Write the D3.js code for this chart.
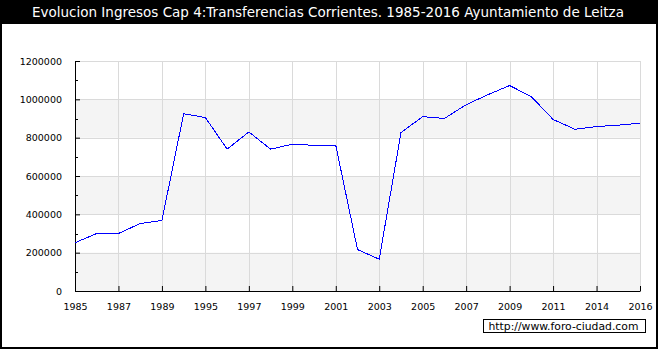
<!DOCTYPE html>
<html>
<head>
<meta charset="utf-8">
<script src="https://cdn.jsdelivr.net/npm/d3@7"></script>
<style>
  body { margin: 0; background: #fff; }
  svg text { font-family: "DejaVu Sans", sans-serif; }
</style>
</head>
<body>
<div class="chart"></div>
<script>
// Chart sizes
const width = 660;
const height = 350;
const margin = {top: 61, right: 20, bottom: 59, left: 75};
const inner_width = width - margin.left - margin.right;
const inner_height = height - margin.top - margin.bottom;

// Data
const years = ['1985', '1986', '1987', '1988', '1989', '1994', '1995', '1996', '1997', '1998',
    '1999', '2000', '2001', '2002', '2003', '2004', '2005', '2006', '2007', '2008',
    '2009', '2010', '2011', '2012', '2014', '2015', '2016'];
const ingresos = [252000, 300000, 300000, 352000, 368000, 925000, 905000, 740000, 830000, 740000,
    766000, 760000, 760000, 216000, 166000, 826000, 910000, 900000, 972000, 1024000,
    1072000, 1014000, 895000, 844000, 858000, 865000, 876000];
const x_ticks = ['1985', '1987', '1989', '1995', '1997', '1999', '2001', '2003', '2005',
    '2007', '2009', '2011', '2014', '2016'];
const y_ticks = [0, 200000, 400000, 600000, 800000, 1000000, 1200000];
const y_minor = [100000, 300000, 500000, 700000, 900000, 1100000];

const title = 'Evolucion Ingresos Cap 4:Transferencias Corrientes. 1985-2016 Ayuntamiento de Leitza';

const svg = d3.select('.chart').append('svg')
    .attr('width', width)
    .attr('height', height)
    .style('display', 'block');

// Frame and title bar
svg.append('rect')
    .attr('x', 1).attr('y', 1)
    .attr('width', 656).attr('height', 347)
    .attr('fill', 'none')
    .attr('stroke', '#000')
    .attr('stroke-width', 2);
svg.append('rect')
    .attr('x', 0).attr('y', 0)
    .attr('width', 658).attr('height', 24)
    .attr('fill', '#000');
svg.append('text')
    .attr('x', 328).attr('y', 17)
    .attr('text-anchor', 'middle')
    .attr('fill', '#fff')
    .style('font-size', '13.5px')
    .text(title);

// Scales
const xScale = d3.scalePoint()
    .domain(years)
    .range([0, inner_width]);
const yScale = d3.scaleLinear()
    .domain([0, 1200000])
    .range([inner_height, 0]);

const chart = svg.append('g')
    .attr('transform', `translate(${margin.left}, ${margin.top})`);

// Alternating bands
const bands = d3.range(0, y_ticks.length - 1, 2);
chart.append('g')
    .selectAll('rect')
    .data(bands)
    .join('rect')
        .attr('x', 0)
        .attr('y', i => yScale(y_ticks[i + 1]))
        .attr('width', inner_width)
        .attr('height', i => yScale(y_ticks[i]) - yScale(y_ticks[i + 1]))
        .attr('fill', '#f4f4f4');

// Grid
chart.append('g')
    .selectAll('line')
    .data(y_ticks.slice(1))
    .join('line')
        .attr('x1', 0).attr('x2', inner_width)
        .attr('y1', d => Math.round(yScale(d)) + 0.5)
        .attr('y2', d => Math.round(yScale(d)) + 0.5)
        .attr('stroke', '#dadada');
chart.append('g')
    .selectAll('line')
    .data(x_ticks.slice(1))
    .join('line')
        .attr('x1', d => Math.round(xScale(d)) + 0.5)
        .attr('x2', d => Math.round(xScale(d)) + 0.5)
        .attr('y1', 0).attr('y2', inner_height)
        .attr('stroke', '#dadada');

// Axes
const yAxis = d3.axisLeft(yScale)
    .tickValues(y_ticks)
    .tickSizeInner(-5)
    .tickSizeOuter(0)
    .tickPadding(13)
    .tickFormat(d3.format('d'));
chart.append('g')
    .call(yAxis)
    .call(g => g.select('.domain').attr('stroke', '#000'))
    .call(g => g.selectAll('text').style('font-size', '9.5px').attr('fill', '#000'));

chart.append('g')
    .selectAll('line')
    .data(y_minor)
    .join('line')
        .attr('x1', 0).attr('x2', 3)
        .attr('y1', d => Math.round(yScale(d)) + 0.5)
        .attr('y2', d => Math.round(yScale(d)) + 0.5)
        .attr('stroke', '#000');

const xAxis = d3.axisBottom(xScale)
    .tickValues(x_ticks)
    .tickSizeInner(-5)
    .tickSizeOuter(0)
    .tickPadding(12);
chart.append('g')
    .attr('transform', `translate(0, ${inner_height})`)
    .call(xAxis)
    .call(g => g.select('.domain').attr('stroke', '#000'))
    .call(g => g.selectAll('text').style('font-size', '9.5px').attr('fill', '#000'));

// Line
const line = d3.line()
    .x((d, i) => xScale(years[i]))
    .y(d => yScale(d));
chart.append('path')
    .datum(ingresos)
    .attr('d', line)
    .attr('fill', 'none')
    .attr('stroke', '#0000ff')
    .attr('stroke-width', 1)
    .style('shape-rendering', 'crispEdges');

// Watermark
const credit = svg.append('g').attr('transform', 'translate(483.5, 319.5)');
credit.append('rect')
    .attr('width', 162).attr('height', 13)
    .attr('fill', '#fff')
    .attr('stroke', '#000');
credit.append('text')
    .attr('x', 5).attr('y', 10.5)
    .style('font-size', '10.8px')
    .text('http://www.foro-ciudad.com');
</script>
</body>
</html>
